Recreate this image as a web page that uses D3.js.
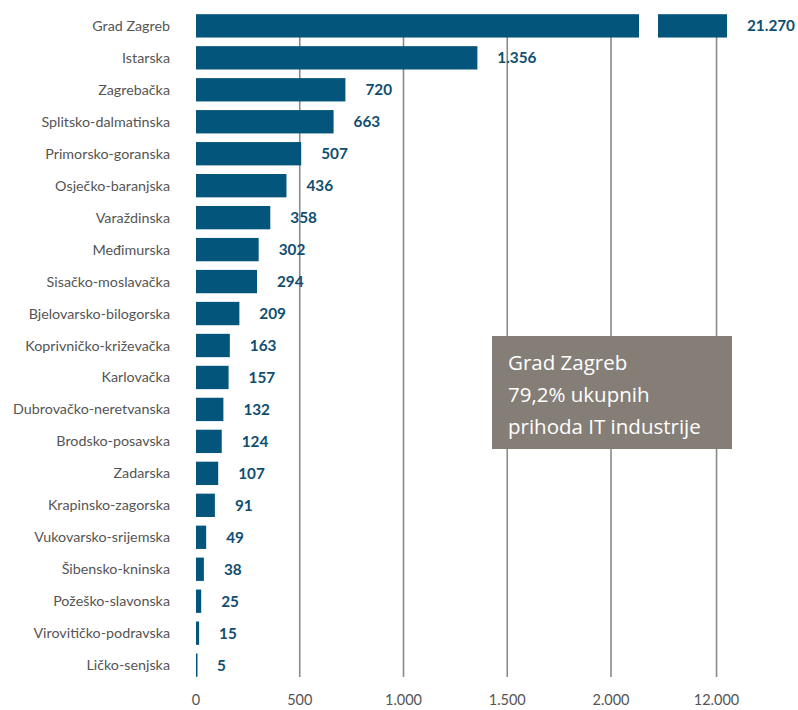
<!DOCTYPE html>
<html>
<head>
<meta charset="utf-8">
<script src="https://cdn.jsdelivr.net/npm/d3@7"></script>
<style>
  body { margin: 0; background: #fff; }
</style>
</head>
<body>
<div id="chart"></div>
<script>
// data
const regions = ["Grad Zagreb", "Istarska", "Zagrebačka", "Splitsko-dalmatinska", "Primorsko-goranska",
  "Osječko-baranjska", "Varaždinska", "Međimurska", "Sisačko-moslavačka", "Bjelovarsko-bilogorska",
  "Koprivničko-križevačka", "Karlovačka", "Dubrovačko-neretvanska", "Brodsko-posavska", "Zadarska",
  "Krapinsko-zagorska", "Vukovarsko-srijemska", "Šibensko-kninska", "Požeško-slavonska",
  "Virovitičko-podravska", "Ličko-senjska"];
const values = [21270, 1356, 720, 663, 507, 436, 358, 302, 294, 209, 163, 157, 132, 124, 107, 91, 49, 38, 25, 15, 5];
const lowTicks = [0, 500, 1000, 1500, 2000];
const highTicks = [12000];
const noteLines = ["Grad Zagreb", "79,2% ukupnih", "prihoda IT industrije"];

const W = 798, H = 710;
const barColor = "#03557c";
const labelColor = "#0f4e70";
const gridColor = "#8a8a8a";
const textGray = "#555";
const fmt = v => d3.format(",")(v).replace(/,/g, ".");

const svg = d3.select("#chart").append("svg")
  .attr("width", W).attr("height", H);

// broken x axis: low part and high part
const breakLow = 2135, breakHigh = 11720;
const xLow = d3.scaleLinear().domain([0, 2000]).range([196, 611]);
const xHigh = d3.scaleLinear().domain([breakHigh, 12050]).range([658, 727]).clamp(true);
const x = v => v <= breakLow ? xLow(v) : xHigh(v);

const y = d3.scaleBand().domain(regions).range([11, 680]).paddingInner(0.27).paddingOuter(0.1);

// gridlines
const grid = svg.append("g");
const gridVals = lowTicks.slice(1).concat(highTicks);
grid.selectAll("line").data(gridVals).join("line")
  .attr("x1", d => x(d)).attr("x2", d => x(d))
  .attr("y1", 15).attr("y2", 677)
  .attr("stroke", gridColor).attr("stroke-width", 1.6);

// bars
const bars = svg.append("g");
regions.forEach((r, i) => {
  const v = values[i];
  if (v > breakLow) {
    bars.append("rect")
      .attr("x", x(0)).attr("y", y(r))
      .attr("width", xLow(breakLow) - x(0)).attr("height", y.bandwidth())
      .attr("fill", barColor);
    bars.append("rect")
      .attr("x", xHigh(breakHigh)).attr("y", y(r))
      .attr("width", xHigh(v) - xHigh(breakHigh)).attr("height", y.bandwidth())
      .attr("fill", barColor);
  } else {
    bars.append("rect")
      .attr("x", x(0)).attr("y", y(r))
      .attr("width", Math.max(1.5, x(v) - x(0))).attr("height", y.bandwidth())
      .attr("fill", barColor);
  }
  // value label
  svg.append("text")
    .attr("x", x(v) + 20)
    .attr("y", y(r) + y.bandwidth() / 2)
    .attr("dy", "0.36em")
    .attr("font-family", "Lato, 'Open Sans', sans-serif")
    .attr("font-weight", 700)
    .attr("font-size", 15.3)
    .attr("fill", labelColor)
    .text(fmt(v));
});

// category labels
svg.append("g").selectAll("text").data(regions).join("text")
  .attr("x", 170)
  .attr("y", d => y(d) + y.bandwidth() / 2)
  .attr("dy", "0.35em")
  .attr("text-anchor", "end")
  .attr("font-family", "Lato, 'Open Sans', sans-serif")
  .attr("font-size", 14.3)
  .attr("fill", textGray)
  .text(d => d);

// x tick labels
svg.append("g").selectAll("text").data(lowTicks.concat(highTicks)).join("text")
  .attr("x", d => x(d))
  .attr("y", 705)
  .attr("text-anchor", "middle")
  .attr("font-family", "Lato, 'Open Sans', sans-serif")
  .attr("font-size", 14.5)
  .attr("fill", textGray)
  .text(d => fmt(d));

// note box
const note = svg.append("g").attr("transform", "translate(492,336)");
note.append("rect")
  .attr("width", 240).attr("height", 113)
  .attr("fill", "#857e77");
note.selectAll("text").data(noteLines).join("text")
  .attr("x", 16)
  .attr("y", (d, i) => 34 + i * 32)
  .attr("font-family", "'Open Sans', Lato, sans-serif")
  .attr("font-weight", 500)
  .attr("font-size", 20.5)
  .attr("fill", "#fff")
  .text(d => d);
</script>
</body>
</html>
